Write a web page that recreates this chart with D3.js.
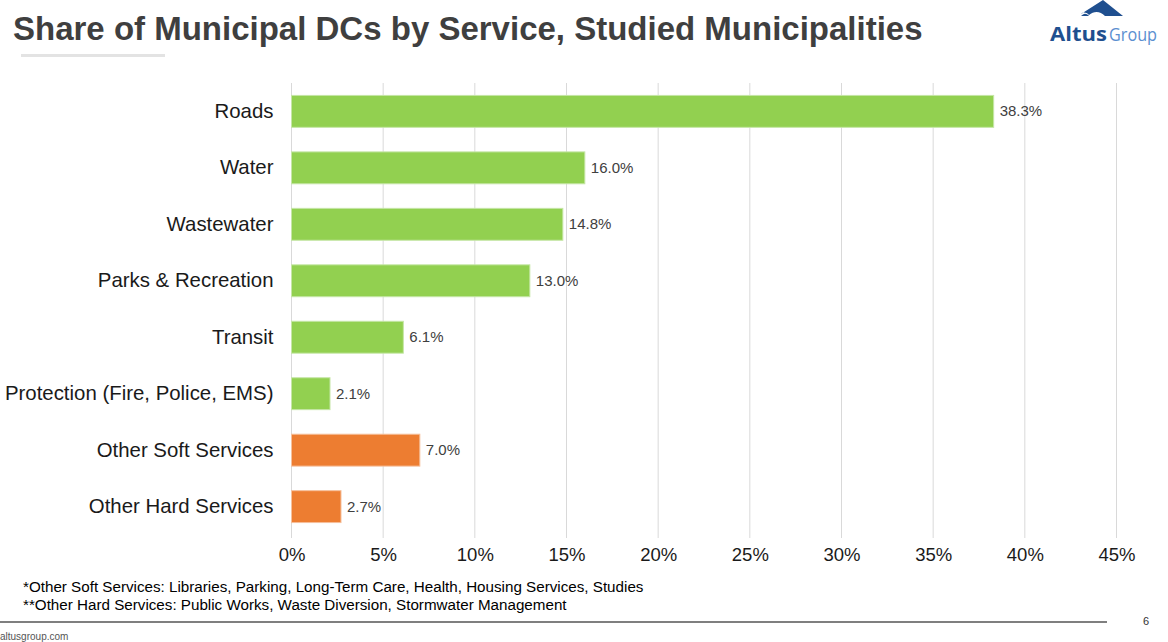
<!DOCTYPE html>
<html><head><meta charset="utf-8">
<script src="https://cdn.jsdelivr.net/npm/d3@7"></script>
<style>body{margin:0;background:#fff;}svg{display:block;font-family:"Liberation Sans",Arial,sans-serif;}</style>
</head><body>
<svg id="c" width="1168" height="642"></svg>
<script>
const categories = ["Roads","Water","Wastewater","Parks & Recreation","Transit","Protection (Fire, Police, EMS)","Other Soft Services","Other Hard Services"];
const values = [38.3,16.0,14.8,13.0,6.1,2.1,7.0,2.7];
const groups = ["core","core","core","core","core","core","other","other"];
const tickValues = [0,5,10,15,20,25,30,35,40,45];
const footnotes = ["*Other Soft Services: Libraries, Parking, Long-Term Care, Health, Housing Services, Studies","**Other Hard Services: Public Works, Waste Diversion, Stormwater Management"];

const svg = d3.select("#c");
const color = d3.scaleOrdinal().domain(["core","other"]).range(["#92D050","#ED7D31"]);
const x = d3.scaleLinear().domain([0,45]).range([291.5,1116.5]);
const y = d3.scaleBand().domain(categories).range([83,535]).paddingInner(0.435).paddingOuter(0.22);

// title
svg.append("text").attr("x",13).attr("y",40).attr("font-size",33).attr("font-weight","bold").attr("fill","#3f3f3f").text("Share of Municipal DCs by Service, Studied Municipalities");
svg.append("rect").attr("x",21).attr("y",54).attr("width",144).attr("height",3).attr("fill","#e3e3e3");

// logo
const lg = svg.append("g");
lg.append("path").attr("d","M1103,0 L1123,16 L1105,16 C1100,11 1094,11 1089,15 C1086,12 1083,12 1081,14 Z").attr("fill","#1f4f8f");
lg.append("path").attr("d","M1081,16 L1083,14.5 C1085,13 1087,14 1089,16 Z").attr("fill","#1f4f8f");
lg.append("text").attr("x",1050).attr("y",41).attr("font-size",19).attr("font-weight","bold").attr("font-family","Open Sans, sans-serif").attr("fill","#1f4f8f").attr("textLength",57).attr("lengthAdjust","spacingAndGlyphs").text("Altus");
lg.append("text").attr("x",1109).attr("y",41).attr("font-size",19).attr("font-family","Open Sans, sans-serif").attr("fill","#5b8fd0").attr("textLength",48).attr("lengthAdjust","spacingAndGlyphs").text("Group");

// grid
svg.append("g").selectAll("line").data(tickValues).join("line")
  .attr("x1",d=>x(d)).attr("x2",d=>x(d)).attr("y1",83).attr("y2",538)
  .attr("stroke","#d9d9d9").attr("stroke-width",1);

// bars
svg.append("g").selectAll("rect").data(categories).join("rect")
  .attr("x",x(0)).attr("y",d=>y(d)).attr("width",(d,i)=>x(values[i])-x(0)).attr("height",y.bandwidth())
  .attr("fill",(d,i)=>color(groups[i])).attr("stroke",(d,i)=>groups[i]==="core"?"#c5e6a6":"#f6c09c").attr("stroke-width",1);

// value labels
svg.append("g").selectAll("text").data(categories).join("text")
  .attr("x",(d,i)=>x(values[i])+6).attr("y",d=>y(d)+y.bandwidth()/2+5)
  .attr("font-size",15).attr("fill","#404040").text((d,i)=>values[i].toFixed(1)+"%");

// category labels
const ya = svg.append("g").attr("transform",`translate(${x(0)},0)`).call(d3.axisLeft(y).tickSize(0).tickPadding(18));
ya.select(".domain").remove();
ya.selectAll("text").attr("font-size",20.4).attr("fill","#1a1a1a").attr("font-family","Liberation Sans, Arial, sans-serif");

// x axis
const xa = svg.append("g").attr("transform","translate(0,538)").call(d3.axisBottom(x).tickValues(tickValues).tickSize(0).tickPadding(10).tickFormat(d=>d+"%"));
xa.select(".domain").remove();
xa.selectAll("text").attr("font-size",18.5).attr("fill","#1a1a1a").attr("font-family","Liberation Sans, Arial, sans-serif");

// footnotes
svg.append("g").selectAll("text").data(footnotes).join("text")
  .attr("x",23).attr("y",(d,i)=>592+i*18).attr("font-size",15.2).attr("fill","#000").text(d=>d);
svg.append("line").attr("x1",0).attr("x2",1107).attr("y1",622).attr("y2",622).attr("stroke","#000").attr("stroke-width",1.2);
svg.append("text").attr("x",1143).attr("y",625).attr("font-size",11).attr("fill","#333").text("6");
svg.append("text").attr("x",0).attr("y",640).attr("font-size",10).attr("fill","#555").text("altusgroup.com");
</script>
</body></html>
